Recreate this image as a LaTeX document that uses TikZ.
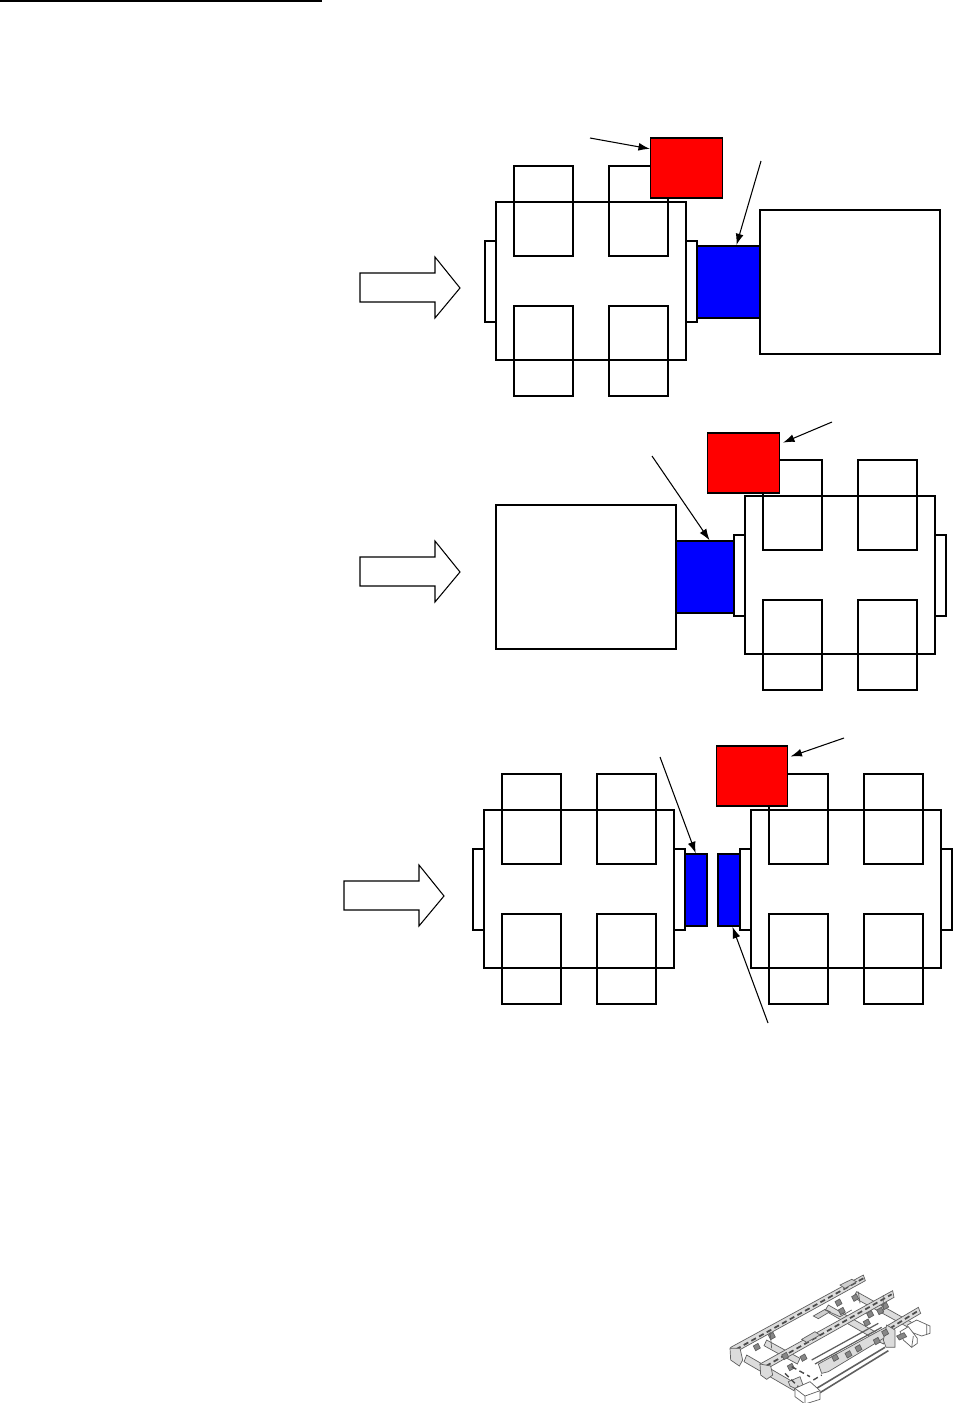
\documentclass[tikz,border=0pt]{standalone}
\usepackage{tikz}
\usetikzlibrary{arrows.meta,positioning,calc}
\definecolor{liftred}{RGB}{255,0,0}
\definecolor{linkblue}{RGB}{0,0,255}
\definecolor{chassis}{RGB}{95,95,95}
\tikzset{
  outline/.style={draw=black,line width=0.7pt},
  redbox/.style={outline,fill=liftred,inner sep=0pt,outer sep=0pt,minimum width=1.43cm,minimum height=1.2cm},
  bluebox/.style={outline,fill=linkblue,inner sep=0pt,outer sep=0pt,minimum height=1.44cm},
  pointer/.style={-{Latex[length=6.5pt,width=4.5pt]},line width=0.6pt,shorten >=0.5pt},
  blockarrow/.style={draw=black,line width=0.6pt,fill=white},
  frame/.style={draw=chassis,line width=0.4pt},
  plate/.style={frame,fill=chassis!22},
  detail/.style={draw=chassis!80!black,line width=1pt,dash pattern=on 3pt off 2pt},
}
\begin{document}
\begin{tikzpicture}[x=0.02cm,y=-0.02cm]
    \useasboundingbox (0,0) rectangle (953,1403);
    \draw[line width=0.6pt] (0,1) -- (322,1);
    % bogies, offset from the upper one
    \foreach \dx/\dy in {0/0,249/294,-12/608,255/608} {
        \begin{scope}[shift={(\dx,\dy)}]
            \draw[outline] (496,202) rectangle (686,360);
            \draw[outline] (485,241) rectangle (496,322);
            \draw[outline] (686,241) rectangle (697,322);
            \foreach \wx in {514,609} {
                \draw[outline] (\wx,166) rectangle ++(59,90);
                \draw[outline] (\wx,306) rectangle ++(59,90);
            }
        \end{scope}
    }
    % upper layout
    \node[outline,inner sep=0pt,minimum width=3.6cm,minimum height=2.88cm] (load1) at (850,282) {};
    \node[bluebox,minimum width=1.26cm] (link1) at (728.5,282) {};
    \node[redbox] (lift1) at (686.5,168) {};
    \coordinate (liftend1) at (590,138);
    \coordinate (linkend1) at (761,161);
    \draw[pointer] (liftend1) -- (lift1.152);
    \draw[pointer] (linkend1) -- (link1.78);
    % middle layout
    \node[outline,inner sep=0pt,minimum width=3.6cm,minimum height=2.88cm] (load2) at (586,577) {};
    \node[bluebox,minimum width=1.16cm] (link2) at (705,577) {};
    \node[redbox] (lift2) at (743.5,463) {};
    \coordinate (liftend2) at (832,422);
    \coordinate (linkend2) at (652,456);
    \draw[pointer] (liftend2) -- ($(lift2.28)+(3,-1)$);
    \draw[pointer] (linkend2) -- (link2.82);
    % lower layout
    \node[bluebox,minimum width=0.44cm] (link3) at (696,890) {};
    \node[bluebox,minimum width=0.44cm] (link4) at (729,890) {};
    \node[redbox] (lift3) at (752,776) {};
    \coordinate (liftend3) at (844,738);
    \coordinate (linkend3) at (660,757);
    \coordinate (linkend4) at (768,1023);
    \draw[pointer] (liftend3) -- ($(lift3.27)+(2,-1)$);
    \draw[pointer] (linkend3) -- (link3.north);
    \draw[pointer] (linkend4) -- (link4.-85);
    % travel direction
    \draw[blockarrow] (360,273) -- (435,273) -- (435,257) -- (460,288) -- (435,318) -- (435,302) -- (360,302) -- cycle;
    \draw[blockarrow] (360,557) -- (435,557) -- (435,541) -- (460,572) -- (435,602) -- (435,586) -- (360,586) -- cycle;
    \draw[blockarrow] (344,881) -- (419,881) -- (419,865) -- (444,896) -- (419,926) -- (419,910) -- (344,910) -- cycle;
    % chassis sketch, in 3x crop units
    \begin{scope}[shift={(700,1260)},scale=1/3]
        % cross members
        \draw[plate] (140,285) -- (290,372) -- (282,392) -- (132,305) -- cycle;
        \draw[plate] (200,240) -- (300,295) -- (292,312) -- (192,257) -- cycle;
        \draw[plate] (385,135) -- (560,235) -- (550,252) -- (375,152) -- cycle;
        \draw[plate] (470,95) -- (640,190) -- (630,205) -- (460,112) -- cycle;
        % long bars between the rails
        \draw[frame,line width=0.7pt] (335,300) -- (535,190) (345,312) -- (545,202);
        \draw[frame,line width=0.9pt] (350,385) -- (555,262) (360,398) -- (565,272);
        \draw[plate] (355,312) -- (560,200) -- (572,222) -- (385,335) -- (365,340) -- cycle;
        % rails
        \draw[plate] (92,262) -- (490,45) -- (496,62) -- (100,280) -- cycle;
        \draw[plate] (180,312) -- (578,92) -- (582,112) -- (190,332) -- cycle;
        \draw[plate] (560,198) -- (655,142) -- (662,160) -- (570,214) -- cycle;
        \draw[detail] (108,268) -- (490,55);
        \draw[detail] (198,318) -- (575,103);
        \draw[detail] (570,205) -- (655,152);
        \draw[frame,fill=chassis!30] (340,168) -- (375,148) -- (390,155) -- (355,176) -- cycle;
        \draw[frame,fill=chassis!30] (420,75) -- (455,58) -- (470,65) -- (435,85) -- cycle;
        \draw[frame,fill=chassis!30] (305,238) -- (345,215) -- (360,225) -- (320,247) -- cycle;
        % end plates
        \draw[plate] (90,265) -- (120,265) -- (128,300) -- (118,318) -- (92,300) -- cycle;
        \draw[plate] (180,312) -- (212,318) -- (218,345) -- (200,358) -- (182,345) -- cycle;
        \draw[plate] (265,365) -- (300,350) -- (310,378) -- (285,385) -- (270,378) -- cycle;
        \draw[plate] (560,195) -- (585,210) -- (585,262) -- (558,262) -- (550,240) -- cycle;
        % brackets and small parts
        \foreach \px/\py in {205/225,160/258,245/285,262/318,300/290,405/125,415/150,455/110,500/160,490/185,530/150,545/135,395/290,435/280,465/262,520/240,545/215} {
            \draw[frame,fill=chassis!75] (\px,\py) -- ++(14,-8) -- ++(7,14) -- ++(-14,8) -- cycle;
        }
        \draw[detail,line width=0.8pt] (255,340) -- (300,385) (275,320) -- (330,350) (340,360) -- (365,345);
        \draw[frame] (375,150) -- (420,170) -- (455,150) (210,215) -- (215,265) (475,95) -- (480,130) (550,105) -- (550,155);
        % motors
        \draw[frame,fill=white] (285,385) -- (330,365) -- (360,392) -- (360,418) -- (315,432) -- (285,410) -- cycle;
        \draw[frame] (285,385) -- (315,408) -- (360,392) (315,408) -- (315,432);
        \draw[frame,fill=white] (622,195) -- (650,180) -- (690,198) -- (690,220) -- (665,228) -- (622,212) -- cycle;
        \draw[frame,fill=white] (600,215) -- (625,200) -- (652,235) -- (652,250) -- (635,262) -- (610,240) -- cycle;
        \draw[frame] (680,195) -- (680,222) (640,228) -- (635,262);
        \draw[frame,fill=chassis!75] (590,228) -- (612,218) -- (620,230) -- (598,240) -- cycle;
    \end{scope}
\end{tikzpicture}
\end{document}
